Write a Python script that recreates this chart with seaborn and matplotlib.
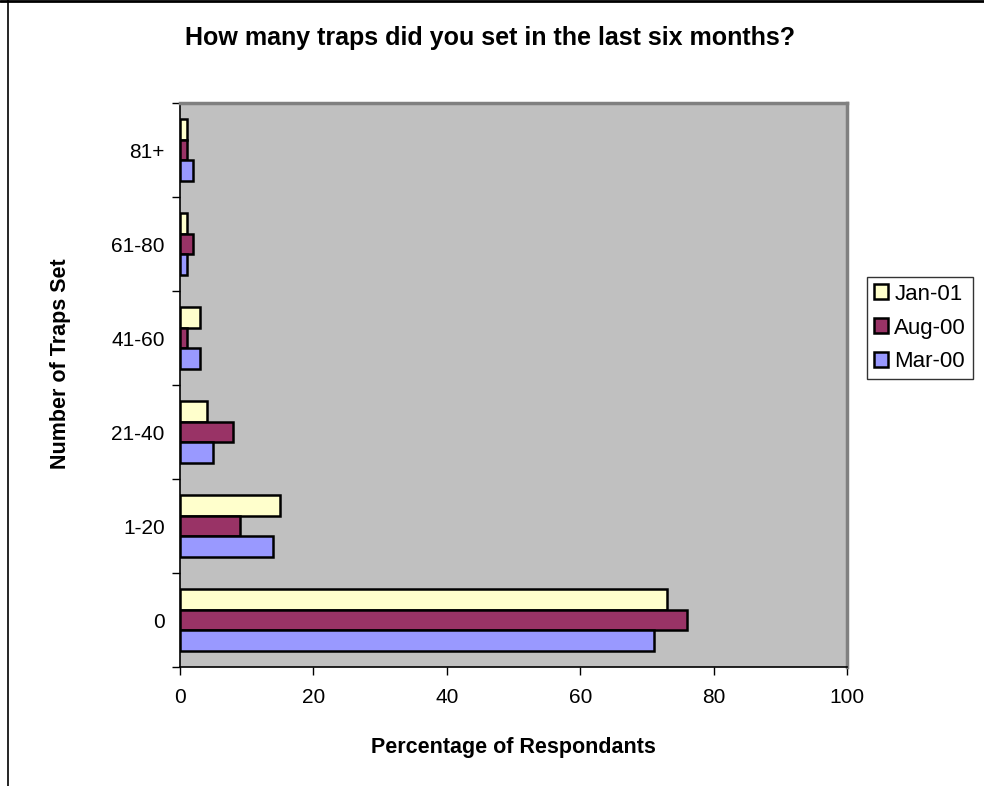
import matplotlib
matplotlib.use("Agg")
import matplotlib.pyplot as plt
from matplotlib.lines import Line2D
from matplotlib.patches import Patch
import numpy as np
import pandas as pd
import seaborn as sns

# Survey data: share of respondents by number of traps set
categories = ["81+", "61-80", "41-60", "21-40", "1-20", "0"]
surveys = ["Jan-01", "Aug-00", "Mar-00"]
jan_01 = [1, 1, 3, 4, 15, 73]
aug_00 = [1, 2, 1, 8, 9, 76]
mar_00 = [2, 1, 3, 5, 14, 71]
x_ticks = [0, 20, 40, 60, 80, 100]

palette = {"Jan-01": "#FFFFCC", "Aug-00": "#993366", "Mar-00": "#9999FF"}

df = pd.DataFrame({
    "Traps": categories * 3,
    "Survey": ["Jan-01"] * 6 + ["Aug-00"] * 6 + ["Mar-00"] * 6,
    "Percent": jan_01 + aug_00 + mar_00,
})

sns.set_style("white")
plt.rcParams["font.family"] = ["Liberation Sans", "DejaVu Sans"]
plt.rcParams.update({"text.color": "black", "axes.labelcolor": "black",
                     "xtick.color": "black", "ytick.color": "black"})

fig = plt.figure(figsize=(9.84, 7.86), dpi=100)
ax = fig.add_axes([180 / 984, 1 - 667 / 786, 667 / 984, 564 / 786])
ax.set_facecolor("#C0C0C0")

sns.barplot(data=df, y="Traps", x="Percent", hue="Survey", order=categories,
            hue_order=surveys, palette=palette, orient="h", width=0.67,
            edgecolor="black", linewidth=1.8, saturation=1, legend=False, ax=ax)

ax.set_xlim(0, 100)
ax.set_ylim(len(categories) - 0.5, -0.5)
ax.set_xticks(x_ticks)
ax.set_xticklabels([str(t) for t in x_ticks], fontsize=15)
ax.set_yticks(np.arange(len(categories)))
ax.set_yticklabels(categories, fontsize=15)
ax.set_yticks(np.arange(len(categories) + 1) - 0.5, minor=True)
ax.tick_params(axis="y", which="major", left=True, length=0, pad=11,
               labelcolor="black")
ax.tick_params(axis="y", which="minor", left=True, direction="out", length=6,
               width=1, color="black")
ax.tick_params(axis="x", which="major", bottom=True, direction="out", length=6,
               width=1, color="black", pad=9, labelcolor="black")

for side in ["left", "bottom"]:
    ax.spines[side].set_color("black")
    ax.spines[side].set_linewidth(1.2)
for side in ["top", "right"]:
    ax.spines[side].set_color("#808080")
    ax.spines[side].set_linewidth(2.5)

ax.set_xlabel("Percentage of Respondants", fontsize=15.5, fontweight="bold",
              labelpad=22, color="black")
ax.set_ylabel("Number of Traps Set", fontsize=15.5, fontweight="bold",
              labelpad=29, color="black")
ax.yaxis.label.set_y(0.537)

fig.text(0.498, 1 - 38 / 786, "How many traps did you set in the last six months?",
         ha="center", va="center", fontsize=18, fontweight="bold", color="black")

handles = [Patch(facecolor=palette[s], edgecolor="black", linewidth=1.8, label=s)
           for s in surveys]
leg = fig.legend(handles=handles, loc="upper left",
                 bbox_to_anchor=(867 / 984, 1 - 277 / 786), frameon=True,
                 fontsize=16, handlelength=0.65, handleheight=0.65,
                 handletextpad=0.28, labelspacing=0.58, borderpad=0.3,
                 borderaxespad=0, fancybox=False, labelcolor="black")
leg.get_frame().set_edgecolor("black")
leg.get_frame().set_linewidth(1.0)

# Outer chart frame (top and left edges)
fig.add_artist(Line2D([0, 1], [1 - 1 / 786, 1 - 1 / 786], transform=fig.transFigure,
                      color="black", linewidth=2))
fig.add_artist(Line2D([8 / 984, 8 / 984], [0, 1], transform=fig.transFigure,
                      color="black", linewidth=1.2))

fig.savefig("out.png", dpi=100)
